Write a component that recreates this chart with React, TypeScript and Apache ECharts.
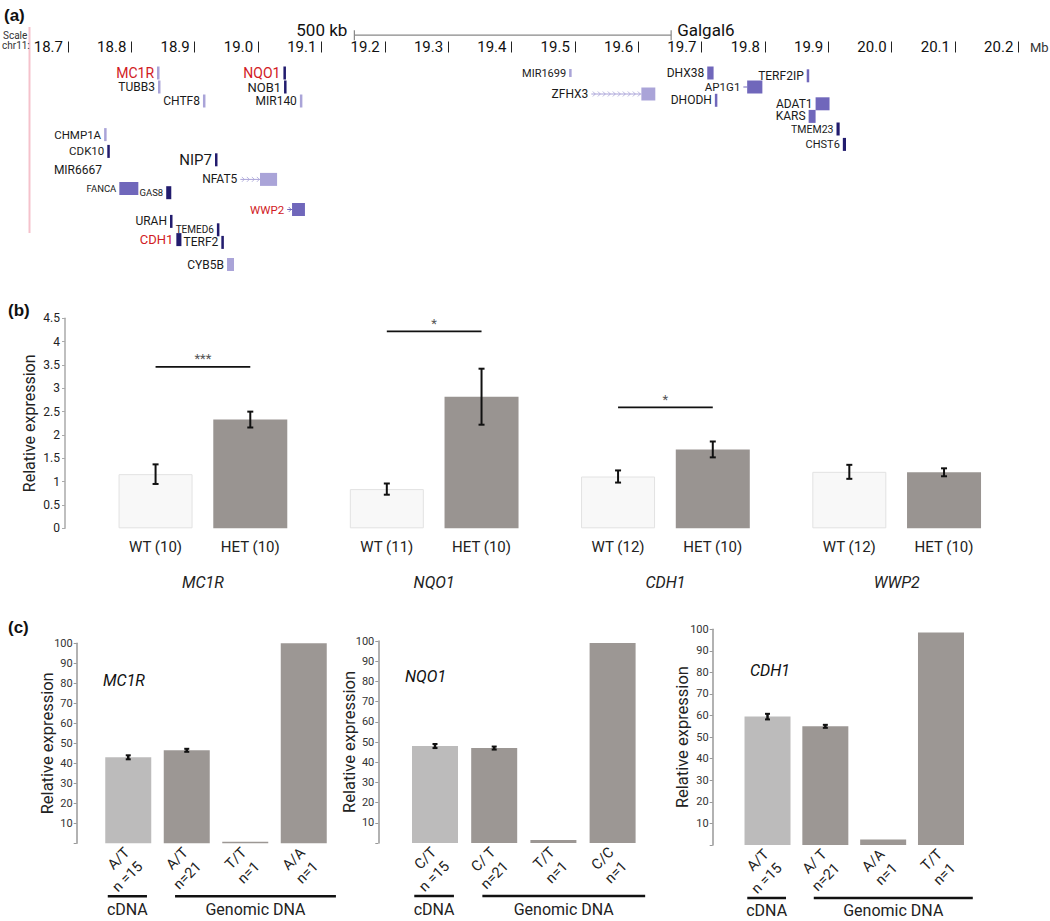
import React, { useEffect, useRef } from "react";
import * as echarts from "echarts";

// ---------------- Panel (a): genome browser track (chr11, Mb) ----------------
const positionTicks = [18.7, 18.8, 18.9, 19.0, 19.1, 19.2, 19.3, 19.4, 19.5, 19.6, 19.7, 19.8, 19.9, 20.0, 20.1, 20.2];
// [name, start Mb, end Mb, track row, shade, coding block start (for genes drawn with introns)]
const genes: [string, number, number, number, string, number | null][] = [
  ["MC1R", 18.8405, 18.8436, 0, "L", null],
  ["TUBB3", 18.842, 18.845, 1, "L", null],
  ["CHTF8", 18.913, 18.916, 2, "L", null],
  ["NQO1", 19.04, 19.044, 0, "D", null],
  ["NOB1", 19.041, 19.044, 1, "D", null],
  ["MIR140", 19.066, 19.069, 2, "L", null],
  ["MIR1699", 19.491, 19.494, 0, "L", null],
  ["ZFHX3", 19.526, 19.627, 1.5, "L", 19.605],
  ["DHX38", 19.709, 19.719, 0, "M", null],
  ["AP1G1", 19.766, 19.796, 1, "M", 19.772],
  ["DHODH", 19.721, 19.724, 1.95, "M", null],
  ["TERF2IP", 19.866, 19.869, 0.2, "M", null],
  ["ADAT1", 19.88, 19.902, 2.2, "M", null],
  ["KARS", 19.869, 19.88, 3.1, "M", null],
  ["TMEM23", 19.913, 19.918, 4.0, "D", null],
  ["CHST6", 19.923, 19.928, 5.1, "D", null],
  ["CHMP1A", 18.757, 18.76, 4.4, "L", null],
  ["CDK10", 18.762, 18.765, 5.6, "D", null],
  ["MIR6667", 18.7584, 18.7584, 6.9, "N", null],
  ["NIP7", 18.932, 18.935, 6.2, "D", null],
  ["NFAT5", 18.972, 19.03, 7.6, "L", 19.003],
  ["FANCA", 18.781, 18.811, 8.25, "M", null],
  ["GAS8", 18.855, 18.863, 8.55, "D", null],
  ["WWP2", 19.046, 19.074, 9.75, "M", 19.0536],
  ["URAH", 18.861, 18.864, 10.6, "D", null],
  ["TEMED6", 18.935, 18.939, 11.2, "D", null],
  ["CDH1", 18.871, 18.879, 11.9, "D", null],
  ["TERF2", 18.942, 18.946, 12.1, "D", null],
  ["CYB5B", 18.951, 18.962, 13.68, "L", null],
];
const highlightedGenes = ["MC1R", "NQO1", "WWP2", "CDH1"];
const scaleBar = [19.152, 19.652, -2.7]; // 500 kb

// ---------------- Panel (b): relative expression WT vs HET ----------------
const bGenes = ["MC1R", "NQO1", "CDH1", "WWP2"];
const wtMean = [1.16, 0.84, 1.11, 1.21];
const wtErr = [0.21, 0.12, 0.13, 0.15];
const wtN = [10, 11, 12, 12];
const hetMean = [2.33, 2.82, 1.69, 1.2];
const hetErr = [0.17, 0.6, 0.17, 0.085];
const hetN = [10, 10, 10, 10];
const sigY = [3.46, 4.22, 2.59, null];
const sigStars = ["***", "*", "*", ""];

// ---------------- Panel (c): allele-specific expression ----------------
const cGenes = ["MC1R", "NQO1", "CDH1"];
const cGenotypes = [
  ["A/T", "A/T", "T/T", "A/A"],
  ["C/T", "C/ T", "T/T", "C/C"],
  ["A/T", "A/ T", "A/A", "T/T"],
];
const cN = ["n =15", "n=21", "n=1", "n=1"];
const cSource = ["cDNA", "gDNA", "gDNA", "gDNA"];
const cValues = [
  [43, 46.5, 0.8, 100],
  [48, 47, 1.5, 99],
  [59.5, 55, 2.5, 98.5],
];
const cErr = [
  [1.0, 0.6, 0, 0],
  [1.0, 0.5, 0, 0],
  [1.3, 0.4, 0, 0],
];
const cGroups: [number, number, string][] = [
  [0, 0, "cDNA"],
  [1, 3, "Genomic DNA"],
];

const FONT = "Roboto, 'Noto Sans', sans-serif";
const shadeColor: Record<string, string> = { L: "#aaa4d8", M: "#7067bb", D: "#221c6e", N: "transparent" };
const labelSize: Record<string, number> = {
  MC1R: 14, NQO1: 14, CDH1: 13, WWP2: 11.5, NIP7: 15, FANCA: 9.5, GAS8: 9.5, TEMED6: 10,
  TMEM23: 10.5, CHST6: 11, MIR1699: 11, CHMP1A: 11.5, CDK10: 11.5, AP1G1: 11.5, NOB1: 13,
};

export default function App() {
  const ref = useRef<HTMLDivElement>(null);
  useEffect(() => {
    document.body.style.margin = "0";
    const chart = echarts.init(ref.current!, null, { renderer: "svg" });

    const B_BAR = 74;
    const B_GAP = 0.28;
    const bOffset = (B_BAR * (1 + B_GAP)) / 2;

    const cGrids = [
      { left: 99, top: 643.3, width: 234, height: 200, offset: 22.3, gap: 21 },
      { left: 405.4, top: 641, width: 236.8, height: 202, offset: 27.1, gap: 20 },
      { left: 738.6, top: 629.3, width: 231.3, height: 215.6, offset: 25.9, gap: 22 },
    ];

    const grids: any[] = [
      { left: 30, top: 41.5, width: 1020, height: 241.5 },
      { left: 87.3, top: 318.3, width: 925, height: 210 },
      ...cGrids.map((g) => ({ left: g.left, top: g.top, width: g.width, height: g.height })),
    ];

    const xAxes: any[] = [
      {
        gridIndex: 0,
        type: "value",
        min: 18.64,
        max: 20.25,
        position: "top",
        axisLine: { show: false, onZero: false },
        splitLine: { show: false },
        axisTick: { show: true, inside: true, length: 11, customValues: positionTicks, lineStyle: { color: "#222", width: 1 } },
        axisLabel: {
          customValues: positionTicks,
          formatter: (v: number) => v.toFixed(1),
          align: "right",
          padding: [0, 5, 0, 0],
          margin: -13,
          fontSize: 15,
          color: "#111",
          fontFamily: FONT,
        },
      },
      {
        gridIndex: 1,
        type: "category",
        data: bGenes,
        axisLine: { show: false },
        axisTick: { show: false },
        axisLabel: { margin: 46, fontSize: 16, fontStyle: "italic", color: "#222", fontFamily: FONT },
      },
      ...cGrids.map((g, k) => ({
        gridIndex: 2 + k,
        type: "category",
        data: cGenotypes[k],
        axisLine: { show: false },
        axisTick: { show: false },
        axisLabel: { show: false },
      })),
    ];

    const yAxes: any[] = [
      { gridIndex: 0, type: "value", min: -2.25, max: 15, inverse: true, show: false },
      {
        gridIndex: 1,
        type: "value",
        min: 0,
        max: 4.5,
        interval: 0.5,
        offset: 22.3,
        name: "Relative expression",
        nameLocation: "middle",
        nameGap: 28,
        nameMoveOverlap: false,
        nameTextStyle: { fontSize: 16, color: "#222", fontFamily: FONT },
        axisLine: { show: true, lineStyle: { color: "#aaa", width: 1.5 } },
        axisTick: { show: true, length: 3, lineStyle: { color: "#aaa" } },
        axisLabel: { fontSize: 12, color: "#222", margin: 5, fontFamily: FONT },
        splitLine: { show: false },
      },
      ...cGrids.map((g, k) => ({
        gridIndex: 2 + k,
        type: "value",
        min: 0,
        max: 100,
        interval: 10,
        offset: g.offset,
        name: "Relative expression",
        nameLocation: "middle",
        nameGap: g.gap,
        nameMoveOverlap: false,
        nameTextStyle: { fontSize: 16.5, color: "#222", fontFamily: FONT },
        axisLine: { show: true, lineStyle: { color: "#999", width: 1.5 } },
        axisTick: { show: true, length: 3, lineStyle: { color: "#999" } },
        axisLabel: { fontSize: 11, color: "#333", margin: 4, fontFamily: FONT, formatter: (v: number) => (v === 0 ? "" : String(v)) },
        splitLine: { show: false },
      })),
    ];

    const series: any[] = [];

    // genes
    series.push({
      type: "custom",
      xAxisIndex: 0,
      yAxisIndex: 0,
      clip: false,
      data: genes.map((g) => [g[1], g[3]]),
      renderItem: (params: any, api: any) => {
        const [name, start, end, row, shade, thick] = genes[params.dataIndex];
        const p1 = api.coord([start, row]);
        const p2 = api.coord([end, row]);
        const h = name === "MIR1699" ? 8 : 13;
        const color = shadeColor[shade];
        const children: any[] = [];
        if (shade !== "N") {
          if (thick != null) {
            const pt = api.coord([thick, row]);
            children.push({ type: "line", shape: { x1: p1[0], y1: p1[1], x2: pt[0], y2: p1[1] }, style: { stroke: color, lineWidth: 1 } });
            for (let x = p1[0] + 3; x < pt[0] - 1; x += 5) {
              children.push({
                type: "polyline",
                shape: { points: [[x - 1.5, p1[1] - 2.5], [x + 1, p1[1]], [x - 1.5, p1[1] + 2.5]] },
                style: { stroke: color, lineWidth: 0.8, fill: null },
              });
            }
            children.push({ type: "rect", shape: { x: pt[0], y: p1[1] - h / 2, width: p2[0] - pt[0], height: h }, style: { fill: color } });
          } else {
            const w = Math.max(p2[0] - p1[0], 2.5);
            children.push({ type: "rect", shape: { x: p1[0], y: p1[1] - h / 2, width: w, height: h }, style: { fill: color } });
          }
        }
        const red = highlightedGenes.indexOf(name) >= 0;
        children.push({
          type: "text",
          style: {
            text: name,
            x: p1[0] - 3,
            y: p1[1],
            align: "right",
            verticalAlign: "middle",
            fontSize: labelSize[name] || 12,
            fontFamily: FONT,
            fill: red ? "#d11a24" : "#1a1a1a",
          },
        });
        return { type: "group", children };
      },
    });

    // scale bar
    series.push({
      type: "custom",
      xAxisIndex: 0,
      yAxisIndex: 0,
      clip: false,
      data: [[scaleBar[0], scaleBar[2]]],
      renderItem: (params: any, api: any) => {
        const a = api.coord([scaleBar[0], scaleBar[2]]);
        const b = api.coord([scaleBar[1], scaleBar[2]]);
        const st = { stroke: "#888", lineWidth: 1.2 };
        return {
          type: "group",
          children: [
            { type: "line", shape: { x1: a[0], y1: a[1], x2: b[0], y2: b[1] }, style: st },
            { type: "line", shape: { x1: a[0], y1: a[1] - 5, x2: a[0], y2: a[1] + 5 }, style: st },
            { type: "line", shape: { x1: b[0], y1: b[1] - 5, x2: b[0], y2: b[1] + 5 }, style: st },
            { type: "text", style: { text: "500 kb", x: a[0] - 7, y: a[1] - 5, align: "right", verticalAlign: "middle", fontSize: 17, fontFamily: FONT, fill: "#111" } },
            { type: "text", style: { text: "Galgal6", x: b[0] + 6, y: b[1] - 5, align: "left", verticalAlign: "middle", fontSize: 17, fontFamily: FONT, fill: "#111" } },
          ],
        };
      },
    });

    // panel b bars
    series.push({
      type: "bar",
      name: "WT",
      xAxisIndex: 1,
      yAxisIndex: 1,
      data: wtMean,
      barWidth: B_BAR,
      barGap: B_GAP * 100 + "%",
      itemStyle: { color: "#f8f8f8", borderColor: "#e2e2e2", borderWidth: 1 },
    });
    series.push({
      type: "bar",
      name: "HET",
      xAxisIndex: 1,
      yAxisIndex: 1,
      data: hetMean,
      barWidth: B_BAR,
      barGap: B_GAP * 100 + "%",
      itemStyle: { color: "#999491" },
    });

    const bItems: any[] = [];
    bGenes.forEach((_, i) => {
      bItems.push([i, wtMean[i], wtErr[i], -1, "WT (" + wtN[i] + ")"]);
      bItems.push([i, hetMean[i], hetErr[i], 1, "HET (" + hetN[i] + ")"]);
    });
    series.push({
      type: "custom",
      xAxisIndex: 1,
      yAxisIndex: 1,
      clip: false,
      z: 10,
      data: bItems.map((d) => [d[0], d[1]]),
      renderItem: (params: any, api: any) => {
        const [cat, v, e, side, label] = bItems[params.dataIndex];
        const base = api.coord([cat, 0]);
        const x = base[0] + side * bOffset;
        const yt = api.coord([cat, v + e])[1];
        const yb = api.coord([cat, v - e])[1];
        const st = { stroke: "#111", lineWidth: 2 };
        return {
          type: "group",
          children: [
            { type: "line", shape: { x1: x, y1: yt, x2: x, y2: yb }, style: st },
            { type: "line", shape: { x1: x - 3, y1: yt, x2: x + 3, y2: yt }, style: st },
            { type: "line", shape: { x1: x - 3, y1: yb, x2: x + 3, y2: yb }, style: st },
            { type: "text", style: { text: label, x, y: base[1] + 19, align: "center", verticalAlign: "middle", fontSize: 15, fontFamily: FONT, fill: "#222" } },
          ],
        };
      },
    });

    const sigItems = bGenes.map((_, i) => [i, sigY[i], sigStars[i]]).filter((d) => d[1] != null);
    series.push({
      type: "custom",
      xAxisIndex: 1,
      yAxisIndex: 1,
      clip: false,
      z: 10,
      data: sigItems.map((d) => [d[0], d[1]]),
      renderItem: (params: any, api: any) => {
        const [cat, y, stars] = sigItems[params.dataIndex] as [number, number, string];
        const p = api.coord([cat, y]);
        return {
          type: "group",
          children: [
            { type: "line", shape: { x1: p[0] - bOffset, y1: p[1], x2: p[0] + bOffset, y2: p[1] }, style: { stroke: "#111", lineWidth: 1.8 } },
            { type: "text", style: { text: stars, x: p[0], y: p[1] - 8, align: "center", verticalAlign: "middle", fontSize: 13, fontFamily: FONT, fill: "#555" } },
          ],
        };
      },
    });

    // panel c
    cGrids.forEach((g, k) => {
      series.push({
        type: "bar",
        xAxisIndex: 2 + k,
        yAxisIndex: 2 + k,
        barWidth: 46,
        data: cValues[k].map((v, i) => ({
          value: v,
          itemStyle: { color: cSource[i] === "cDNA" ? "#bcbbbb" : "#9c9794" },
        })),
      });
      const errItems = cValues[k].map((v, i) => [i, v, cErr[k][i]]).filter((d) => d[2] > 0);
      series.push({
        type: "custom",
        xAxisIndex: 2 + k,
        yAxisIndex: 2 + k,
        clip: false,
        z: 10,
        data: errItems.map((d) => [d[0], d[1]]),
        renderItem: (params: any, api: any) => {
          const [cat, v, e] = errItems[params.dataIndex];
          const x = api.coord([cat, v])[0];
          let yt = api.coord([cat, v + e])[1];
          let yb = api.coord([cat, v - e])[1];
          if (yb - yt < 3) {
            const m = (yt + yb) / 2;
            yt = m - 1.5;
            yb = m + 1.5;
          }
          const st = { stroke: "#111", lineWidth: 2 };
          return {
            type: "group",
            children: [
              { type: "line", shape: { x1: x, y1: yt, x2: x, y2: yb }, style: { stroke: "#111", lineWidth: 2.5 } },
              { type: "line", shape: { x1: x - 2.5, y1: yt, x2: x + 2.5, y2: yt }, style: st },
              { type: "line", shape: { x1: x - 2.5, y1: yb, x2: x + 2.5, y2: yb }, style: st },
            ],
          };
        },
      });
      // rotated genotype / sample size labels
      series.push({
        type: "custom",
        xAxisIndex: 2 + k,
        yAxisIndex: 2 + k,
        clip: false,
        data: cGenotypes[k].map((_, i) => [i, 0]),
        renderItem: (params: any, api: any) => {
          const i = params.dataIndex;
          const p = api.coord([i, 0]);
          const mk = (text: string, dx: number, dy: number) => ({
            type: "text",
            x: p[0] + dx,
            y: p[1] + dy,
            rotation: Math.PI / 4,
            style: { text, x: 0, y: 0, align: "right", verticalAlign: "middle", fontSize: 14.5, fontFamily: FONT, fill: "#222" },
          });
          return { type: "group", children: [mk(cGenotypes[k][i], -1, 7), mk(cN[i], 12, 21)] };
        },
      });
      series.push({
        type: "custom",
        xAxisIndex: 2 + k,
        yAxisIndex: 2 + k,
        clip: false,
        data: cGroups.map((d) => [d[0], 0]),
        renderItem: (params: any, api: any) => {
          const [from, to, label] = cGroups[params.dataIndex];
          const band = api.size([1, 0])[0];
          const isC = label === "cDNA";
          const p1 = api.coord([from, 0]);
          const p2 = api.coord([to, 0]);
          const x1 = p1[0] - band * (isC ? 0.35 : 0.2);
          const x2 = p2[0] + band * (isC ? 0.32 : 0.55);
          const y = p1[1] + 53;
          return {
            type: "group",
            children: [
              { type: "line", shape: { x1, y1: y, x2, y2: y }, style: { stroke: "#111", lineWidth: 2.5 } },
              { type: "text", style: { text: label, x: (x1 + x2) / 2, y: y + 13, align: "center", verticalAlign: "middle", fontSize: 16, fontFamily: FONT, fill: "#222" } },
            ],
          };
        },
      });
    });

    const txt = (text: string, x: number, y: number, extra: any = {}) => ({
      type: "text",
      x,
      y,
      style: { text, fontSize: 16, fontFamily: FONT, fill: "#111", verticalAlign: "middle", ...extra },
    });

    const graphic: any[] = [
      txt("(a)", 4, 15, { fontSize: 17, fontWeight: "bold", fontFamily: "'Liberation Sans', Arial, sans-serif" }),
      txt("(b)", 8, 310, { fontSize: 17, fontWeight: "bold", fontFamily: "'Liberation Sans', Arial, sans-serif" }),
      txt("(c)", 8, 627, { fontSize: 17, fontWeight: "bold", fontFamily: "'Liberation Sans', Arial, sans-serif" }),
      { type: "line", shape: { x1: 29.5, y1: 27, x2: 29.5, y2: 233 }, style: { stroke: "#f5c2cc", lineWidth: 2 } },
      txt("Scale", 3, 35.5, { fontSize: 10, fill: "#333" }),
      txt("chr11:", 2, 45, { fontSize: 10, fill: "#333" }),
      txt("Mb", 1030, 47, { fontSize: 13, fill: "#333" }),
      txt(cGenes[0], 103, 680, { fontStyle: "italic" }),
      txt(cGenes[1], 405, 676, { fontStyle: "italic" }),
      txt(cGenes[2], 750, 670, { fontStyle: "italic" }),
    ];

    chart.setOption({
      animation: false,
      backgroundColor: "#ffffff",
      textStyle: { fontFamily: FONT },
      grid: grids,
      xAxis: xAxes,
      yAxis: yAxes,
      series,
      graphic,
    });
    return () => chart.dispose();
  }, []);
  return <div ref={ref} style={{ width: 1050, height: 921 }} />;
}
